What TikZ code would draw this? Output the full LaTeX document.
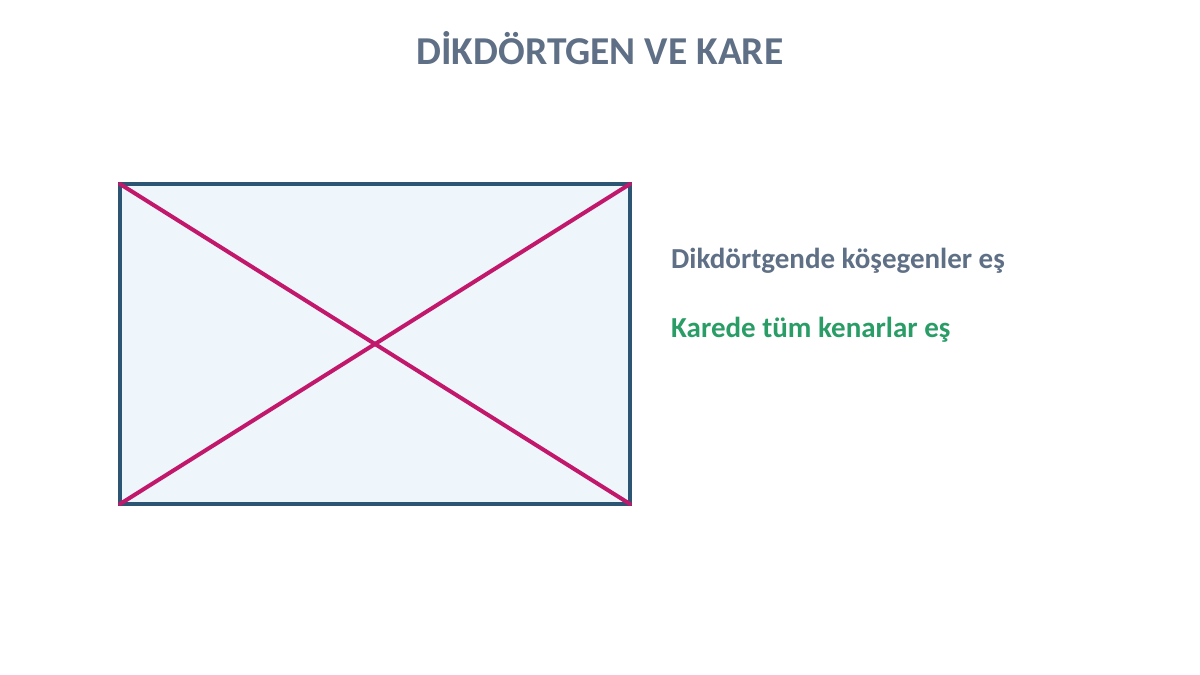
\documentclass[tikz,border=0pt]{standalone}
\usepackage{fontspec}
\setmainfont{Carlito}
\definecolor{titlegray}{HTML}{5E6F86}
\definecolor{txtgreen}{HTML}{2A9D66}
\definecolor{rectblue}{HTML}{2B5573}
\definecolor{rectfill}{HTML}{EEF6FC}
\definecolor{diagmag}{HTML}{C2186B}
\begin{document}
\begin{tikzpicture}[x=1pt,y=-1pt,
  titlestyle/.style={font=\fontsize{39.5}{44}\selectfont\bfseries, text=titlegray, inner sep=0pt, anchor=base},
  labelstyle/.style={font=\fontsize{29}{34}\selectfont\bfseries, inner sep=0pt, anchor=base west},
  rectstyle/.style={draw=rectblue, fill=rectfill, line width=4.5pt},
  diagstyle/.style={draw=diagmag, line width=4pt, line cap=round}]
\useasboundingbox (0,0) rectangle (1200,675);
\node[titlestyle] (title) at (600,64) {DİKDÖRTGEN VE KARE};
\coordinate (tl) at (120,184);
\coordinate (tr) at (630,184);
\coordinate (br) at (630,504);
\coordinate (bl) at (120,504);
\draw[rectstyle] (tl) rectangle (br);
\draw[diagstyle] (tl) -- (br);
\draw[diagstyle] (tr) -- (bl);
\node[labelstyle, text=titlegray] (l1) at (671,268) {Dikdörtgende köşegenler eş};
\node[labelstyle, text=txtgreen] (l2) at (671,337) {Karede tüm kenarlar eş};
\end{tikzpicture}
\end{document}
